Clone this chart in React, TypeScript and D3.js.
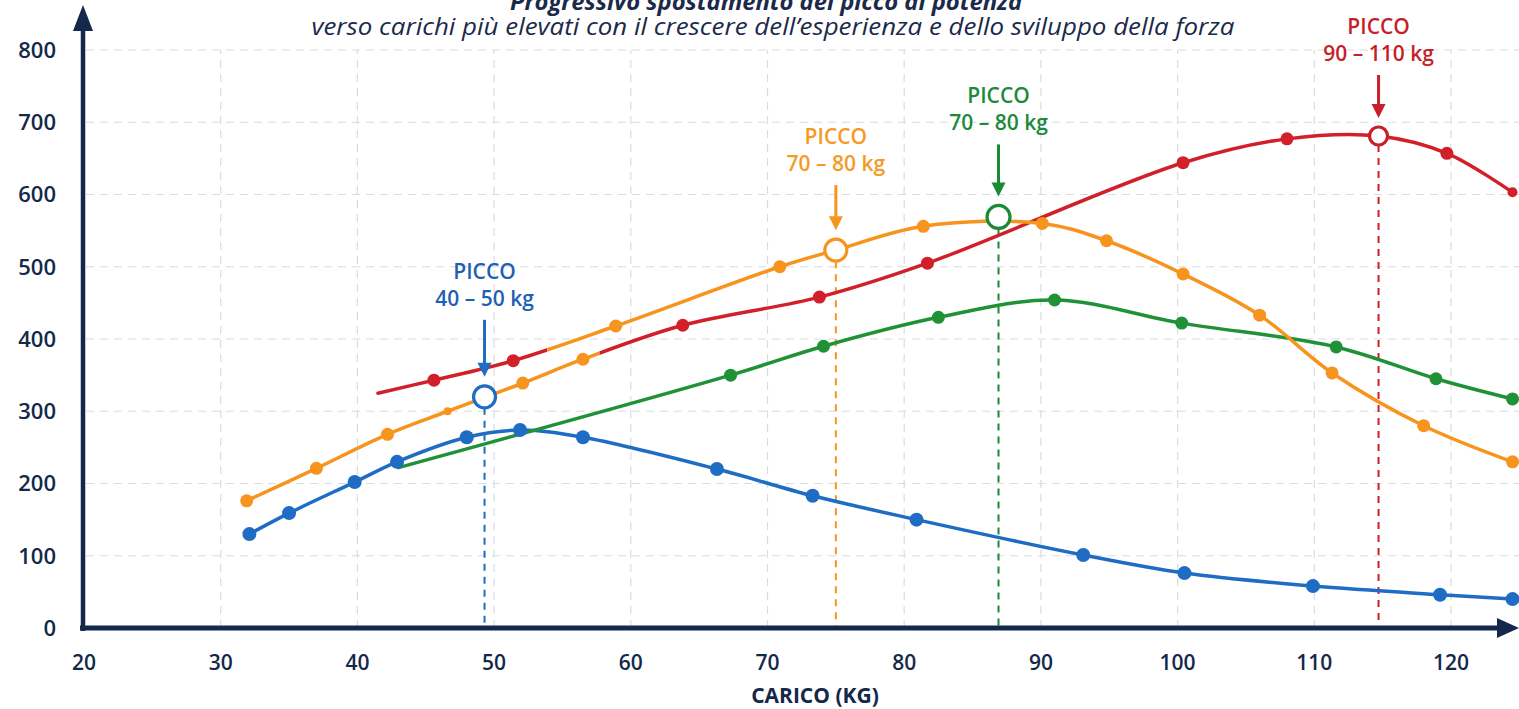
import React from 'react';
import * as d3 from 'd3';

// axis ticks
const xTicks = [20, 30, 40, 50, 60, 70, 80, 90, 100, 110, 120];
const yTicks = [0, 100, 200, 300, 400, 500, 600, 700, 800];

const titleLine1 = 'Progressivo spostamento del picco di potenza';
const titleLine2 = 'verso carichi più elevati con il crescere dell’esperienza e dello sviluppo della forza';
const xLabel = 'CARICO (KG)';

// series values: [carico kg, potenza]
const blueData: [number, number][] = [
  [32.1, 130], [35.0, 159], [39.8, 202], [42.9, 230], [48.0, 264], [51.9, 274],
  [56.5, 264], [66.3, 220], [73.3, 183], [80.9, 150], [93.1, 101], [100.5, 76],
  [109.9, 58], [119.2, 46], [124.5, 40],
];
const orangeData: [number, number][] = [
  [31.9, 176], [37.0, 221], [42.2, 268], [46.6, 300], [52.1, 339], [56.5, 372],
  [58.9, 418], [70.9, 500], [75.0, 523], [81.4, 556], [90.1, 560], [94.8, 536],
  [100.4, 490], [106.0, 433], [111.3, 353], [118.0, 280], [124.5, 230],
];
const greenData: [number, number][] = [
  [43.0, 222], [67.3, 350], [74.1, 390], [82.5, 430], [91.0, 454], [100.3, 422],
  [111.6, 389], [118.9, 345], [124.5, 317],
];
const redData: [number, number][] = [
  [41.5, 325], [45.6, 343], [51.4, 370], [63.8, 419], [73.8, 458], [81.7, 505],
  [100.4, 644], [108.0, 677], [114.7, 681], [119.7, 657], [124.5, 603],
];

// peak markers and their labels
const peakBlue: [number, number] = [49.3, 320];
const peakOrange: [number, number] = [75.0, 523];
const peakGreen: [number, number] = [86.9, 569];
const peakRed: [number, number] = [114.7, 681];
const peakRanges = ['40 – 50 kg', '70 – 80 kg', '70 – 80 kg', '90 – 110 kg'];

const W = 1519;
const H = 709;
const navy = '#13284a';
const cBlue = '#1f6cc4';
const cOrange = '#f7941d';
const cGreen = '#1f9238';
const cRed = '#d2202a';

const x = d3.scaleLinear().domain([20, 120]).range([84, 1451]);
const y = d3.scaleLinear().domain([0, 800]).range([628, 50]);

const line = d3.line<[number, number]>()
  .x(d => x(d[0]))
  .y(d => y(d[1]))
  .curve(d3.curveCatmullRom.alpha(0.5));

// orange and red cross twice around 52-59 kg; in the picture the two strokes swap
// colour there, so the strokes are built as a lower and an upper track
const lowerTrack = [...orangeData.filter(d => d[0] <= 56.5), ...redData.filter(d => d[0] >= 63.8)];
const upperTrack = [...redData.filter(d => d[0] <= 51.4), ...orangeData.filter(d => d[0] >= 58.9)];
const lowerSwitch = 57.7;
const upperSwitch = 53.9;

const dotted = [
  { key: 'blue', color: cBlue, data: blueData, dotFrom: 0, r: 7 },
  { key: 'green', color: cGreen, data: greenData, dotFrom: 1, r: 6.5 },
  { key: 'red', color: cRed, data: redData, dotFrom: 1, r: 6.5 },
  { key: 'orange', color: cOrange, data: orangeData, dotFrom: 0, r: 6.5 },
];

const peaks = [
  { p: peakBlue, color: cBlue, text: '#1f5fb4', range: peakRanges[0], r: 11, arrow: 57 },
  { p: peakOrange, color: cOrange, text: '#f59a25', range: peakRanges[1], r: 11, arrow: 45 },
  { p: peakGreen, color: '#1a8a35', text: '#1b8a3a', range: peakRanges[2], r: 11.5, arrow: 52 },
  { p: peakRed, color: '#c81f2a', text: '#c61f2a', range: peakRanges[3], r: 9, arrow: 43 },
];

const font = '"Open Sans", sans-serif';

const App: React.FC = () => {
  const isPeakPoint = (d: [number, number]) =>
    peaks.some(pk => pk.p[0] === d[0] && pk.p[1] === d[1]);

  const stroke = { fill: 'none', strokeWidth: 3.5, strokeLinecap: 'round' as const };

  return (
    <svg width={W} height={H} style={{ position: 'fixed', left: 0, top: 0, background: '#fff' }}>
      <defs>
        <clipPath id="lowL"><rect x={0} y={0} width={x(lowerSwitch)} height={H} /></clipPath>
        <clipPath id="lowR"><rect x={x(lowerSwitch)} y={0} width={W} height={H} /></clipPath>
        <clipPath id="upL"><rect x={0} y={0} width={x(upperSwitch)} height={H} /></clipPath>
        <clipPath id="upR"><rect x={x(upperSwitch)} y={0} width={W} height={H} /></clipPath>
      </defs>

      {/* grid */}
      <g stroke="#d9dce2" strokeWidth={1.2} strokeDasharray="8 6">
        {yTicks.filter(t => t > 0).map(t => (
          <line key={'gy' + t} x1={86} x2={W} y1={y(t)} y2={y(t)} />
        ))}
        {xTicks.filter(t => t > 20).map(t => (
          <line key={'gx' + t} x1={x(t)} x2={x(t)} y1={y(0)} y2={y(800)} />
        ))}
      </g>

      {/* title */}
      <text x={766} y={10} textAnchor="middle" fontFamily={font} fontStyle="italic" fontWeight={700}
        fontSize={23} fill="#1b2a4a" textLength={512} lengthAdjust="spacingAndGlyphs">{titleLine1}</text>
      <text x={773} y={35} textAnchor="middle" fontFamily={font} fontStyle="italic" fontWeight={400}
        fontSize={23} fill="#1b2a4a" textLength={923} lengthAdjust="spacingAndGlyphs">{titleLine2}</text>

      {/* peak verticals */}
      {peaks.map((pk, i) => (
        <line key={'pv' + i} x1={x(pk.p[0])} x2={x(pk.p[0])} y1={y(pk.p[1]) + pk.r} y2={y(0)}
          stroke={pk.color} strokeWidth={2} strokeDasharray="7 6" />
      ))}

      {/* lines */}
      <path d={line(blueData) || ''} stroke={cBlue} {...stroke} />
      <path d={line(greenData) || ''} stroke={cGreen} {...stroke} />
      <path d={line(lowerTrack) || ''} stroke={cRed} clipPath="url(#lowR)" {...stroke} />
      <path d={line(upperTrack) || ''} stroke={cRed} clipPath="url(#upL)" {...stroke} />
      <path d={line(upperTrack) || ''} stroke={cOrange} clipPath="url(#upR)" {...stroke} />
      <path d={line(lowerTrack) || ''} stroke={cOrange} clipPath="url(#lowL)" {...stroke} />

      {/* dots */}
      {dotted.map(s => (
        <g key={s.key + 'dots'} fill={s.color}>
          {s.data.map((d, i) => {
            if (i < s.dotFrom || isPeakPoint(d)) return null;
            let r = s.r;
            if (s.key === 'orange' && d[0] === 46.6) r = 4;
            if (s.key === 'red' && i === s.data.length - 1) r = 5;
            return <circle key={i} cx={x(d[0])} cy={y(d[1])} r={r} />;
          })}
        </g>
      ))}

      {/* peak markers, arrows, labels */}
      {peaks.map((pk, i) => {
        const cx = x(pk.p[0]);
        const cy = y(pk.p[1]);
        const tip = cy - pk.r - 9;
        const tail = tip - pk.arrow;
        return (
          <g key={'pk' + i}>
            <circle cx={cx} cy={cy} r={pk.r} fill="#fff" stroke={pk.color} strokeWidth={3.2} />
            <line x1={cx} x2={cx} y1={tail} y2={tip - 10} stroke={pk.color} strokeWidth={3} />
            <path d={`M${cx},${tip} L${cx - 7},${tip - 14} L${cx + 7},${tip - 14} Z`} fill={pk.color} />
            <text x={cx} y={tail - 14} textAnchor="middle" fontFamily={font} fontWeight={600}
              fontSize={21} fill={pk.text}>{pk.range}</text>
            <text x={cx} y={tail - 41} textAnchor="middle" fontFamily={font} fontWeight={600}
              fontSize={21} fill={pk.text}>PICCO</text>
          </g>
        );
      })}

      {/* axes */}
      <line x1={83} x2={83} y1={y(0) + 3} y2={28} stroke={navy} strokeWidth={4.5} />
      <path d={`M83,5 L73,31 L93,31 Z`} fill={navy} />
      <line x1={80} x2={1500} y1={y(0)} y2={y(0)} stroke={navy} strokeWidth={5} />
      <path d={`M1519,${y(0)} L1497,${y(0) - 10} L1497,${y(0) + 10} Z`} fill={navy} />

      {/* tick labels */}
      {yTicks.map(t => (
        <text key={'ty' + t} x={56} y={y(t)} dy="0.36em" textAnchor="end" fontFamily={font}
          fontWeight={600} fontSize={22} fill={navy}>{t}</text>
      ))}
      {xTicks.map(t => (
        <text key={'tx' + t} x={x(t)} y={670} textAnchor="middle" fontFamily={font}
          fontWeight={600} fontSize={21} fill={navy}>{t}</text>
      ))}
      <text x={815} y={703} textAnchor="middle" fontFamily={font} fontWeight={700} fontSize={21}
        fill={navy}>{xLabel}</text>
    </svg>
  );
};

export default App;
